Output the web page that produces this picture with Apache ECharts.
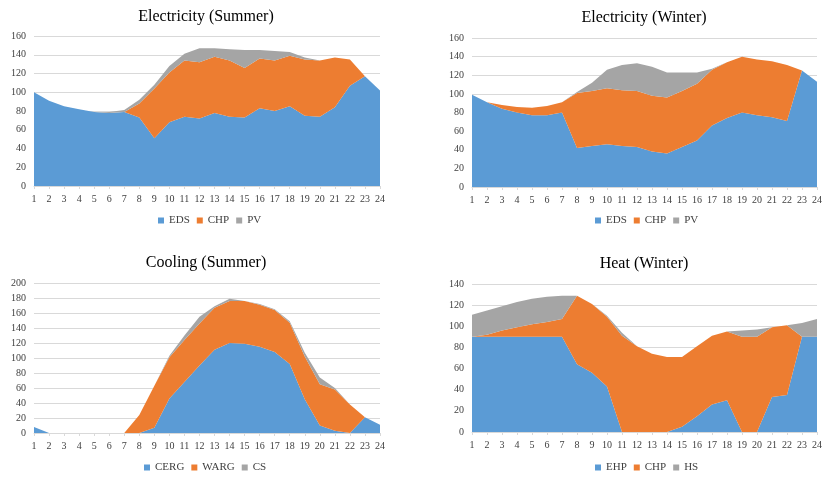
<!DOCTYPE html>
<html><head><meta charset="utf-8">
<script src="https://cdn.jsdelivr.net/npm/echarts@6/dist/echarts.min.js"></script>
<style>html,body{margin:0;padding:0;background:#fff}#c{width:825px;height:477px}</style>
</head><body><div id="c"></div>
<script>
const hours = ['1','2','3','4','5','6','7','8','9','10','11','12','13','14','15','16','17','18','19','20','21','22','23','24'];

// Electricity (Summer)
const elecSummerEDS = [100,91,85,82,79,78,79,73,51,68,74,72,78,74,73,83,80,85,75,74,84,107,117,102];
const elecSummerCHP = [0,0,0,0,0,0,0,15,53,53,60,60,60,60,53,53,54,54,60,60,53,28,0,0];
const elecSummerPV  = [0,0,0,0,0,1,2,4,4,7,7,15,9,12,19,9,10,4,2,0,0,0,0,0];

// Electricity (Winter)
const elecWinterEDS = [99,91,84,80,77,77,80,42,44,46,44,43,38,36,43,50,66,74,80,77,75,71,125,113];
const elecWinterCHP = [0,0,4,6,8,10,11,59,59,60,60,60,60,60,60,61,60,60,60,60,60,60,0,0];
const elecWinterPV  = [0,0,0,0,0,0,0,1,9,20,27,30,31,27,20,12,1,0,0,0,0,0,0,0];

// Cooling (Summer)
const coolCERG = [8,0,0,0,0,0,0,0,7,46,68,90,111,120,119,115,108,92,45,10,3,0,21,11];
const coolWARG = [0,0,0,0,0,0,0,24,56,55,56,56,56,56,57,56,56,55,57,55,55,38,0,0];
const coolCS   = [0,0,0,0,0,0,0,0,0,2,6,9,2,3,0,1,1,2,5,9,2,0,0,0];

// Heat (Winter)
const heatEHP = [90,90,90,90,90,90,90,64,56,43,0,0,0,0,5,15,26,30,0,0,33,35,90,90];
const heatCHP = [0,2,6,9,12,14,17,65,65,66,91,81,74,71,66,66,65,65,90,90,66,66,0,0];
const heatHS  = [21,23,23,24,24,24,22,0,0,1,3,0,0,0,0,0,0,0,6,7,0,0,13,17];

const yMax = [160,160,200,140];
const titles = ['Electricity (Summer)','Electricity (Winter)','Cooling (Summer)','Heat (Winter)'];
const names = [['EDS','CHP','PV'],['EDS','CHP','PV'],['CERG','WARG','CS'],['EHP','CHP','HS']];
const values = [
  [elecSummerEDS, elecSummerCHP, elecSummerPV],
  [elecWinterEDS, elecWinterCHP, elecWinterPV],
  [coolCERG, coolWARG, coolCS],
  [heatEHP, heatCHP, heatHS]
];

const colors = ['#5B9BD5','#ED7D31','#A5A5A5'];
const FONT = '"Liberation Serif","Times New Roman",serif';
const grids = [
  {left:34, top:36, width:346, height:150},
  {left:472, top:38, width:347, height:149},
  {left:34, top:283, width:346, height:150},
  {left:472, top:284, width:347, height:148}
];
const titlePos = [[201,4],[639,5],[201,250],[639,251]];
const legendPos = [[153,210],[590,210],[139,457],[590,457]];

const option = {
  backgroundColor:'#fff',
  animation:false,
  title: titles.map((t,i)=>({text:t, left:titlePos[i][0], top:titlePos[i][1], textAlign:'center',
    textStyle:{fontFamily:FONT, fontSize:16, fontWeight:'normal', color:'#000'}})),
  legend: names.map((n,i)=>({data:n, left:legendPos[i][0], top:legendPos[i][1], icon:'rect',
    itemWidth:6, itemHeight:6, itemGap:7, textStyle:{fontFamily:FONT, fontSize:11, color:'#404040'}})),
  grid: grids,
  xAxis: grids.map((g,i)=>({type:'category', gridIndex:i, data:hours, boundaryGap:false,
    axisLine:{lineStyle:{color:'#D9D9D9'}}, axisTick:{show:true, length:3, lineStyle:{color:'#D9D9D9'}},
    axisLabel:{fontFamily:FONT, fontSize:10, color:'#404040', margin:8, interval:0}})),
  yAxis: grids.map((g,i)=>({type:'value', gridIndex:i, min:0, max:yMax[i], interval:20,
    axisLine:{show:false}, axisTick:{show:false},
    splitLine:{lineStyle:{color:'#D9D9D9'}},
    axisLabel:{fontFamily:FONT, fontSize:10, color:'#404040', margin:8}})),
  series: []
};
values.forEach((grp,i)=>{
  grp.forEach((arr,k)=>{
    option.series.push({type:'line', name:names[i][k], xAxisIndex:i, yAxisIndex:i, stack:'s'+i,
      data:arr, symbol:'none', lineStyle:{width:0}, itemStyle:{color:colors[k]},
      areaStyle:{color:colors[k], opacity:1}});
  });
});
const chart = echarts.init(document.getElementById('c'), null, {renderer:'canvas'});
chart.setOption(option);
</script></body></html>
